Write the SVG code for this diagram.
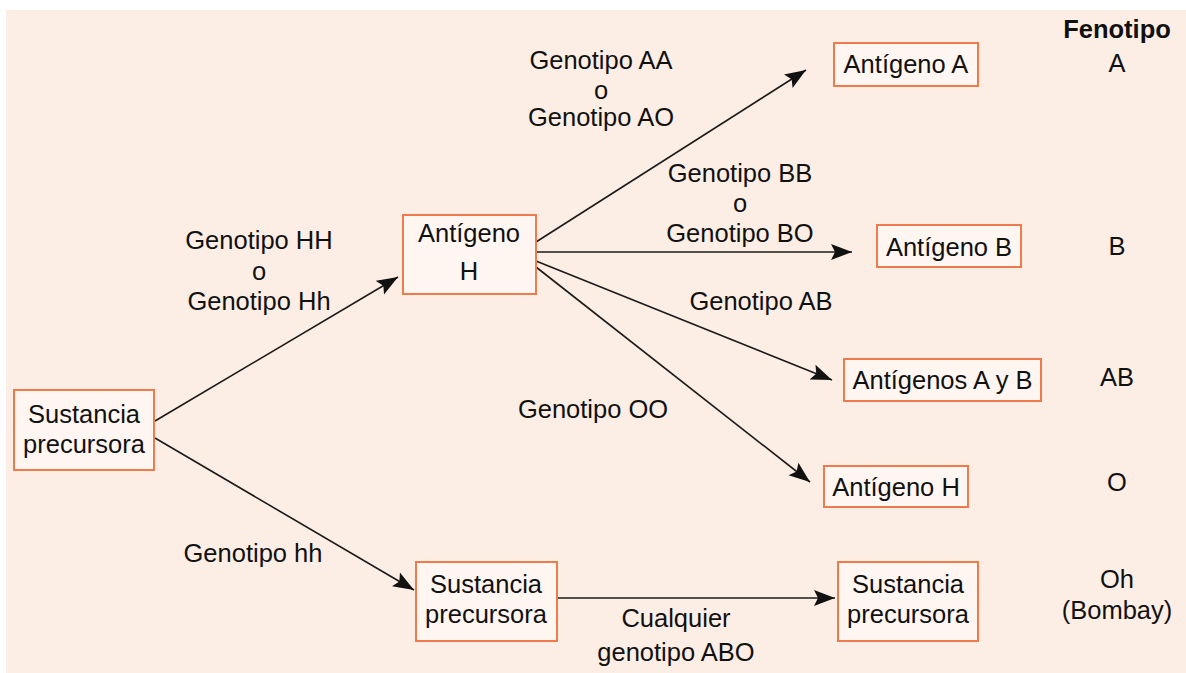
<svg xmlns="http://www.w3.org/2000/svg" width="1186" height="673" viewBox="0 0 1186 673">
<defs>
<style>
.bg{fill:#fdeee5}
.box{fill:#fff6f1;stroke:#f07a4c;stroke-width:2}
text{font-family:"Liberation Sans",Arial,sans-serif;font-size:25.5px;fill:#111;text-anchor:middle}
.b{font-weight:bold}
.ln{stroke:#1a1a1a;stroke-width:1.6;fill:none;marker-end:url(#ah)}
</style>
<marker id="ah" markerUnits="userSpaceOnUse" markerWidth="22" markerHeight="18" viewBox="0 0 22 18" refX="21" refY="9" orient="auto">
<path d="M0,1 L21,9 L0,17 L4,9 z" fill="#111"/>
</marker>
</defs>
<rect x="0" y="0" width="1186" height="673" fill="#ffffff"/>
<rect class="bg" x="6" y="10" width="1180" height="663"/>

<g id="connectors">
<line class="ln" x1="155" y1="421" x2="398" y2="277"/>
<line class="ln" x1="155" y1="438" x2="414" y2="590"/>
<line class="ln" x1="536" y1="242" x2="806" y2="70"/>
<line class="ln" x1="536" y1="252" x2="852" y2="252"/>
<line class="ln" x1="536" y1="261" x2="832" y2="380"/>
<line class="ln" x1="536" y1="267" x2="810" y2="482"/>
<line class="ln" x1="557" y1="598" x2="835" y2="598"/>
</g>

<g id="labels">
<text x="259" y="249">Genotipo HH</text>
<text x="259" y="280">o</text>
<text x="259" y="310">Genotipo Hh</text>
<text x="601" y="69">Genotipo AA</text>
<text x="601" y="99">o</text>
<text x="601" y="126">Genotipo AO</text>
<text x="740" y="182">Genotipo BB</text>
<text x="740" y="212">o</text>
<text x="740" y="242">Genotipo BO</text>
<text x="761" y="310">Genotipo AB</text>
<text x="593" y="418">Genotipo OO</text>
<text x="253" y="562">Genotipo hh</text>
<text x="676" y="627">Cualquier</text>
<text x="676" y="661">genotipo ABO</text>
</g>

<g id="fenotipo">
<text class="b" x="1117" y="38">Fenotipo</text>
<text x="1117" y="72">A</text>
<text x="1117" y="255">B</text>
<text x="1117" y="386">AB</text>
<text x="1117" y="491">O</text>
<text x="1117" y="588">Oh</text>
<text x="1117" y="619">(Bombay)</text>
</g>

<g id="node-sustancia-inicial">
<rect class="box" x="14" y="390" width="140" height="80"/>
<text x="84" y="423">Sustancia</text>
<text x="84" y="453">precursora</text>
</g>
<g id="node-antigeno-h-mid">
<rect class="box" x="403" y="215" width="133" height="79"/>
<text x="469" y="242">Antígeno</text>
<text x="469" y="280">H</text>
</g>
<g id="node-sustancia-hh">
<rect class="box" x="416" y="562" width="141" height="79"/>
<text x="486" y="593">Sustancia</text>
<text x="486" y="623">precursora</text>
</g>
<g id="node-sustancia-final">
<rect class="box" x="838" y="562" width="140" height="79"/>
<text x="908" y="593">Sustancia</text>
<text x="908" y="623">precursora</text>
</g>
<g id="node-antigeno-a">
<rect class="box" x="834" y="43" width="144" height="43"/>
<text x="906" y="73">Antígeno A</text>
</g>
<g id="node-antigeno-b">
<rect class="box" x="877" y="225" width="144" height="42"/>
<text x="949" y="256">Antígeno B</text>
</g>
<g id="node-antigenos-ab">
<rect class="box" x="844" y="359" width="197" height="42"/>
<text x="942.5" y="389">Antígenos A y B</text>
</g>
<g id="node-antigeno-h-final">
<rect class="box" x="824" y="466" width="144" height="41"/>
<text x="896" y="496">Antígeno H</text>
</g>
</svg>
